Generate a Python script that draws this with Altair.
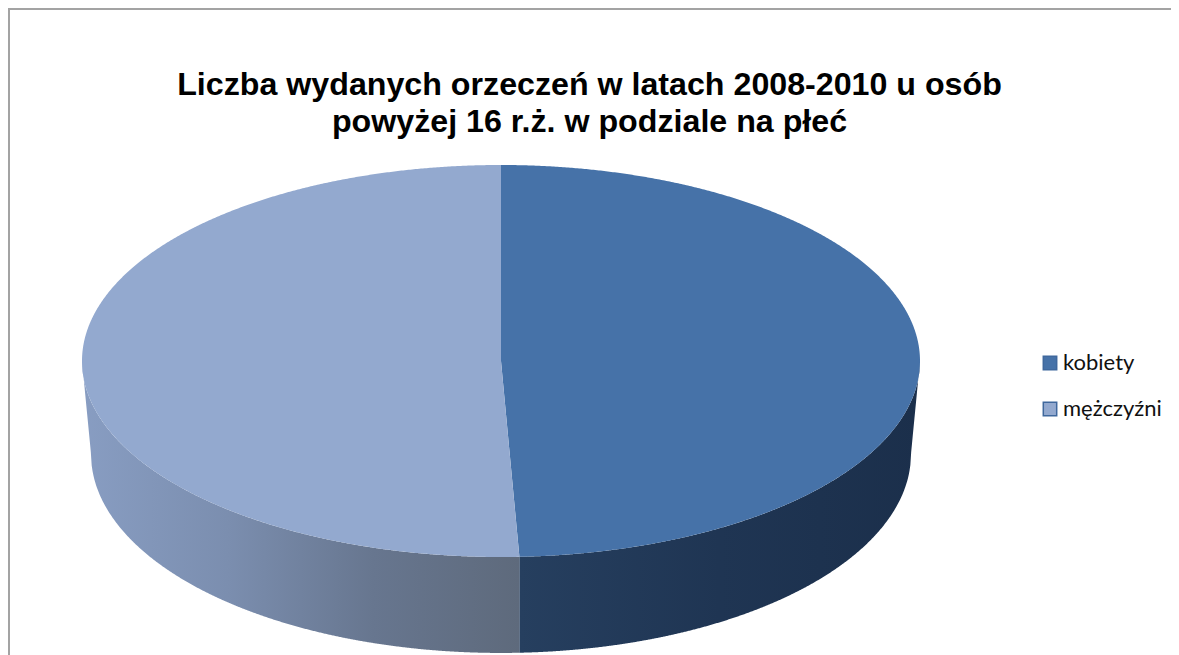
import numpy as np
import pandas as pd
import altair as alt

TITLE = ["Liczba wydanych orzeczeń w latach 2008-2010 u osób",
         "powyżej 16 r.ż. w podziale na płeć"]
CATEGORIES = ["kobiety", "mężczyźni"]
SHARES = [49.3, 50.7]
TOP_COLORS = ["#4672a8", "#93a9cf"]
WALL_LEFT_STOPS = ["#889dc2", "#7b8eaf", "#67768f", "#5e6a7c"]
WALL_RIGHT_STOPS = ["#263f5f", "#1f3553", "#1b2f4b"]

# Disc geometry in units of the disc radius (drawn through the scales below)
BOTTOM_RX, BOTTOM_CY, BOTTOM_RY = 0.9785, -0.4745, 1.015

end_t = 2 * np.pi * SHARES[0] / sum(SHARES)
end_u = float(np.sin(end_t))

t = np.linspace(0, np.pi, 721)
v = np.cos(t)
edge = np.sin(t)
boundary = np.where(v >= 0, 0.0, -v * end_u)
boundary = np.minimum(boundary, edge)

top = pd.concat([
    pd.DataFrame({"płeć": CATEGORIES[0], "v": v, "a": boundary, "b": edge}),
    pd.DataFrame({"płeć": CATEGORIES[1], "v": v, "a": -edge, "b": boundary}),
])


def bottom_curve(u):
    u = np.asarray(u, dtype=float)
    inner = np.abs(u) <= BOTTOM_RX
    curved = BOTTOM_CY - BOTTOM_RY * np.sqrt(np.clip(1 - (u / BOTTOM_RX) ** 2, 0, 1))
    side = BOTTOM_CY * (1 - np.abs(u)) / (1 - BOTTOM_RX)
    return np.where(inner, curved, side)


def wall(u):
    return pd.DataFrame({"u": u, "upper": -np.sqrt(np.clip(1 - u ** 2, 0, 1)),
                         "lower": bottom_curve(u)})


left_u = np.concatenate([[-1.0], np.linspace(-0.9999, end_u, 500)])
right_u = np.linspace(end_u, 1.0, 500)

# page pixels: disc centre (501, 361), radii 419 and 196; plot starts at (8, 8)
x_scale = alt.Scale(domain=[(8 - 501) / 419, (1171 - 501) / 419], nice=False, zero=False)
y_scale = alt.Scale(domain=[(361 - 655) / 196, (361 - 8) / 196], nice=False, zero=False)


def grad(colors):
    n = len(colors) - 1
    return alt.Gradient(gradient="linear", x1=0, x2=1, y1=0, y2=0,
                        stops=[alt.GradientStop(color=c, offset=i / n)
                               for i, c in enumerate(colors)])


def wall_layer(u, colors):
    return alt.Chart(wall(u)).mark_area(color=grad(colors), orient="vertical").encode(
        x=alt.X("u:Q", scale=x_scale, axis=None),
        y=alt.Y("upper:Q", scale=y_scale, axis=None),
        y2="lower:Q",
    )


top_layer = alt.Chart(top).mark_area(orient="horizontal").encode(
    y=alt.Y("v:Q", scale=y_scale, axis=None),
    x=alt.X("a:Q", scale=x_scale, axis=None),
    x2="b:Q",
    color=alt.Color(
        "płeć:N",
        scale=alt.Scale(domain=CATEGORIES, range=TOP_COLORS),
        legend=alt.Legend(
            title=None, orient="none", legendX=1031, legendY=344,
            symbolType="square", symbolSize=180, symbolStrokeColor="#3f689d",
            symbolStrokeWidth=1.5, symbolOpacity=1,
            labelFont="Lato", labelFontSize=22, labelColor="#111111",
            labelOffset=2, rowPadding=24, labelLimit=200,
        ),
    ),
)

frame_top = alt.Chart(pd.DataFrame({"a": [0]})).mark_rule(color="#a3a3a3", strokeWidth=2).encode(
    x=alt.value(0), x2=alt.value(1163), y=alt.value(1))
frame_left = alt.Chart(pd.DataFrame({"a": [0]})).mark_rule(color="#a3a3a3", strokeWidth=2).encode(
    x=alt.value(1), y=alt.value(0), y2=alt.value(647))

chart = alt.layer(
    frame_top, frame_left,
    wall_layer(left_u, WALL_LEFT_STOPS),
    wall_layer(right_u, WALL_RIGHT_STOPS),
    top_layer,
).resolve_scale(x="shared", y="shared").properties(
    width=1163, height=647,
    autosize=alt.AutoSizeParams(type="none"),
    padding=0,
    title=alt.TitleParams(
        text=TITLE, anchor="middle", frame="group", font="Liberation Sans",
        fontSize=32.2, fontWeight="bold", color="#000000", lineHeight=37,
        orient="top", offset=-157, baseline="alphabetic",
    ),
).configure_view(stroke=None)

chart.save("out.html", embed_options={"renderer": "svg", "actions": False})
